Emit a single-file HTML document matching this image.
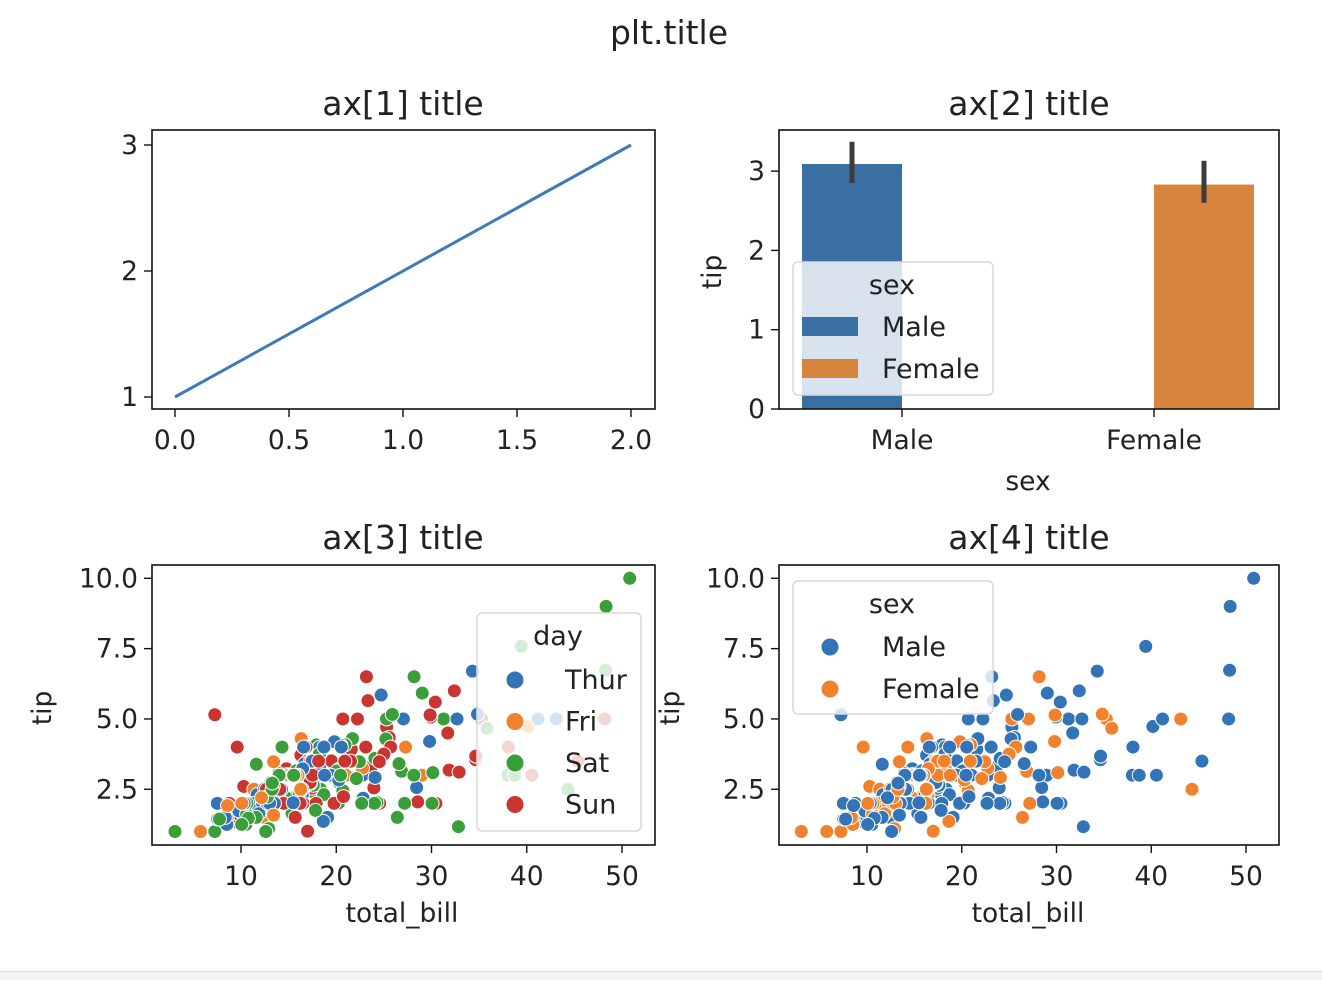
<!DOCTYPE html>
<html><head><meta charset="utf-8">
<style>
body{margin:0;background:#fff;width:1322px;height:980px;overflow:hidden;font-family:"Liberation Sans","DejaVu Sans",sans-serif;}
svg text{font-family:"DejaVu Sans","Liberation Sans",sans-serif;fill:#222;}
</style></head>
<body>
<svg id="fig" width="1322" height="980" xmlns="http://www.w3.org/2000/svg">
<rect x="0" y="971" width="1322" height="9" fill="#f4f4f4"/>
<line x1="0" y1="971.5" x2="1322" y2="971.5" stroke="#ddd"/>
</svg>
<script>
// ---- data ----
const lineX = [0, 2];
const lineY = [1, 3];
const barCats = ["Male", "Female"];
const barVals = [3.09, 2.83];
const barLo = [2.85, 2.60];
const barHi = [3.37, 3.13];
const ax1XTicks = [0, 0.5, 1.0, 1.5, 2.0];
const ax1YTicks = [1, 2, 3];
const ax2YTicks = [0, 1, 2, 3];
const scatXTicks = [10, 20, 30, 40, 50];
const scatYTicks = [2.5, 5.0, 7.5, 10.0];
const days = ["Thur", "Fri", "Sat", "Sun"];
const sexes = ["Male", "Female"];
// [total_bill, tip, sex, day]
const rows = [
[16.99,1.01,"F","Sun"],[10.34,1.66,"M","Sun"],[21.01,3.5,"M","Sun"],[23.68,3.31,"M","Sun"],[24.59,3.61,"F","Sun"],[25.29,4.71,"M","Sun"],[8.77,2,"M","Sun"],[26.88,3.12,"M","Sun"],[15.04,1.96,"M","Sun"],[14.78,3.23,"M","Sun"],[10.27,1.71,"M","Sun"],[35.26,5,"F","Sun"],[15.42,1.57,"M","Sun"],[18.43,3,"M","Sun"],[14.83,3.02,"F","Sun"],[21.58,3.92,"M","Sun"],[10.33,1.67,"F","Sun"],[16.29,3.71,"M","Sun"],[16.97,3.5,"F","Sun"],[20.65,3.35,"M","Sat"],[17.92,4.08,"M","Sat"],[20.29,2.75,"F","Sat"],[15.77,2.23,"F","Sat"],[39.42,7.58,"M","Sat"],[19.82,3.18,"M","Sat"],[17.81,2.34,"M","Sat"],[13.37,2,"M","Sat"],[12.69,2,"M","Sat"],[21.7,4.3,"M","Sat"],[19.65,3,"F","Sat"],[9.55,1.45,"M","Sat"],[18.35,2.5,"M","Sat"],[15.06,3,"F","Sat"],[20.69,2.45,"F","Sat"],[17.78,3.27,"M","Sat"],[24.06,3.6,"M","Sat"],[16.31,2,"M","Sat"],[16.93,3.07,"F","Sat"],[18.69,2.31,"M","Sat"],[31.27,5,"M","Sat"],[16.04,2.24,"M","Sat"],[17.46,2.54,"M","Sun"],[13.94,3.06,"M","Sun"],[9.68,1.32,"M","Sun"],[30.4,5.6,"M","Sun"],[18.29,3,"M","Sun"],[22.23,5,"M","Sun"],[32.4,6,"M","Sun"],[28.55,2.05,"M","Sun"],[18.04,3,"M","Sun"],[12.54,2.5,"M","Sun"],[10.29,2.6,"F","Sun"],[34.81,5.2,"F","Sun"],[9.94,1.56,"M","Sun"],[25.56,4.34,"M","Sun"],[19.49,3.51,"M","Sun"],[38.01,3,"M","Sat"],[26.41,1.5,"F","Sat"],[11.24,1.76,"M","Sat"],[48.27,6.73,"M","Sat"],[20.29,3.21,"M","Sat"],[13.81,2,"M","Sat"],[11.02,1.98,"M","Sat"],[18.29,3.76,"M","Sat"],[17.59,2.64,"M","Sat"],[20.08,3.15,"M","Sat"],[16.45,2.47,"F","Sat"],[3.07,1,"F","Sat"],[20.23,2.01,"M","Sat"],[15.01,2.09,"M","Sat"],[12.02,1.97,"M","Sat"],[17.07,3,"F","Sat"],[26.86,3.14,"F","Sat"],[25.28,5,"F","Sat"],[14.73,2.2,"F","Sat"],[10.51,1.25,"M","Sat"],[17.92,3.08,"M","Sat"],[27.2,4,"M","Thur"],[22.76,3,"M","Thur"],[17.29,2.71,"M","Thur"],[19.44,3,"M","Thur"],[16.66,3.4,"M","Thur"],[10.07,1.83,"F","Thur"],[32.68,5,"M","Thur"],[15.98,2.03,"M","Thur"],[34.83,5.17,"F","Thur"],[13.03,2,"M","Thur"],[18.28,4,"M","Thur"],[24.71,5.85,"M","Thur"],[21.16,3,"M","Thur"],[28.97,3,"M","Fri"],[22.49,3.5,"M","Fri"],[5.75,1,"F","Fri"],[16.32,4.3,"F","Fri"],[22.75,3.25,"F","Fri"],[40.17,4.73,"M","Fri"],[27.28,4,"M","Fri"],[12.03,1.5,"M","Fri"],[21.01,3,"M","Fri"],[12.46,1.5,"M","Fri"],[11.35,2.5,"F","Fri"],[15.38,3,"F","Fri"],[44.3,2.5,"F","Sat"],[22.42,3.48,"F","Sat"],[20.92,4.08,"F","Sat"],[15.36,1.64,"M","Sat"],[20.49,4.06,"M","Sat"],[25.21,4.29,"M","Sat"],[18.24,3.76,"M","Sat"],[14.31,4,"F","Sat"],[14,3,"M","Sat"],[7.25,1,"F","Sat"],[38.07,4,"M","Sun"],[23.95,2.55,"M","Sun"],[25.71,4,"F","Sun"],[17.31,3.5,"F","Sun"],[29.93,5.07,"M","Sun"],[10.65,1.5,"F","Thur"],[12.43,1.8,"F","Thur"],[24.08,2.92,"F","Thur"],[11.69,2.31,"M","Thur"],[13.42,1.68,"F","Thur"],[14.26,2.5,"M","Thur"],[15.95,2,"M","Thur"],[12.48,2.52,"F","Thur"],[29.8,4.2,"F","Thur"],[8.52,1.48,"M","Thur"],[14.52,2,"F","Thur"],[11.38,2,"F","Thur"],[22.82,2.18,"M","Thur"],[19.08,1.5,"M","Thur"],[20.27,2.83,"F","Thur"],[11.17,1.5,"F","Thur"],[12.26,2,"F","Thur"],[18.26,3.25,"F","Thur"],[8.51,1.25,"F","Thur"],[10.33,2,"F","Thur"],[14.15,2,"F","Thur"],[16,2,"M","Thur"],[13.16,2.75,"F","Thur"],[17.47,3.5,"F","Thur"],[34.3,6.7,"M","Thur"],[41.19,5,"M","Thur"],[27.05,5,"F","Thur"],[16.43,2.3,"F","Thur"],[8.35,1.5,"F","Thur"],[18.64,1.36,"F","Thur"],[11.87,1.63,"F","Thur"],[9.78,1.73,"M","Thur"],[7.51,2,"M","Thur"],[14.07,2.5,"M","Sun"],[13.13,2,"M","Sun"],[17.26,2.74,"M","Sun"],[24.55,2,"M","Sun"],[19.77,2,"M","Sun"],[29.85,5.14,"F","Sun"],[48.17,5,"M","Sun"],[25,3.75,"F","Sun"],[13.39,2.61,"F","Sun"],[16.49,2,"M","Sun"],[21.5,3.5,"M","Sun"],[12.66,2.5,"M","Sun"],[16.21,2,"F","Sun"],[13.81,2,"M","Sun"],[17.51,3,"F","Sun"],[24.52,3.48,"M","Sun"],[20.76,2.24,"M","Sun"],[31.71,4.5,"M","Sun"],[10.59,1.61,"F","Sat"],[10.63,2,"F","Sat"],[50.81,10,"M","Sat"],[15.81,3.16,"M","Sat"],[7.25,5.15,"M","Sun"],[31.85,3.18,"M","Sun"],[16.82,4,"M","Sun"],[32.9,3.11,"M","Sun"],[17.89,2,"M","Sun"],[14.48,2,"M","Sun"],[9.6,4,"F","Sun"],[34.63,3.55,"M","Sun"],[34.65,3.68,"M","Sun"],[23.33,5.65,"M","Sun"],[45.35,3.5,"M","Sun"],[23.17,6.5,"M","Sun"],[40.55,3,"M","Sun"],[20.69,5,"M","Sun"],[20.9,3.5,"F","Sun"],[30.46,2,"M","Sun"],[18.15,3.5,"F","Sun"],[23.1,4,"M","Sun"],[15.69,1.5,"M","Sun"],[19.81,4.19,"F","Thur"],[28.44,2.56,"M","Thur"],[15.48,2.02,"M","Thur"],[16.58,4,"M","Thur"],[7.56,1.44,"M","Thur"],[10.34,2,"M","Thur"],[43.11,5,"F","Thur"],[13,2,"F","Thur"],[13.51,2,"M","Thur"],[18.71,4,"M","Thur"],[12.74,2.01,"F","Thur"],[13,2,"F","Thur"],[16.4,2.5,"F","Thur"],[20.53,4,"M","Thur"],[16.47,3.23,"F","Thur"],[26.59,3.41,"M","Sat"],[38.73,3,"M","Sat"],[24.27,2.03,"M","Sat"],[12.76,2.23,"F","Sat"],[30.06,2,"M","Sat"],[25.89,5.16,"M","Sat"],[48.33,9,"M","Sat"],[13.27,2.5,"F","Sat"],[28.17,6.5,"F","Sat"],[12.9,1.1,"F","Sat"],[28.15,3,"M","Sat"],[11.59,1.5,"M","Sat"],[7.74,1.44,"M","Sat"],[30.14,3.09,"F","Sat"],[12.16,2.2,"M","Fri"],[13.42,3.48,"F","Fri"],[8.58,1.92,"M","Fri"],[15.98,3,"F","Fri"],[13.42,1.58,"M","Fri"],[16.27,2.5,"F","Fri"],[10.09,2,"F","Fri"],[20.45,3,"M","Sat"],[13.28,2.72,"M","Sat"],[22.12,2.88,"F","Sat"],[24.01,2,"M","Sat"],[15.69,3,"M","Sat"],[11.61,3.39,"M","Sat"],[10.77,1.47,"M","Sat"],[15.53,3,"M","Sat"],[10.07,1.25,"M","Sat"],[12.6,1,"M","Sat"],[32.83,1.17,"M","Sat"],[35.83,4.67,"F","Sat"],[29.03,5.92,"M","Sat"],[27.18,2,"F","Sat"],[22.67,2,"M","Sat"],[17.82,1.75,"M","Sat"],[18.78,3,"F","Thur"]
];

const NS = "http://www.w3.org/2000/svg";
const svg = document.getElementById("fig");
const dayColors = {Thur:"#3274b5", Fri:"#f0822e", Sat:"#3a9f3a", Sun:"#c93530"};
const sexColors = {M:"#3274b5", F:"#f0822e"};
const TS = 26.5, TT = 33, LS = 27;
function mk(tag, attrs, parent){ const e=document.createElementNS(NS,tag); for(const k in attrs) e.setAttribute(k,attrs[k]); (parent||svg).appendChild(e); return e; }
function txt(x,y,s,size,anchor,parent,extra){ const t=mk("text",Object.assign({x:x,y:y,"font-size":size,"text-anchor":anchor||"middle"},extra||{}),parent); t.textContent=s; return t; }

// scales
const a1x = v => 175 + v*228, a1y = v => 397 - (v-1)*126;
const a2y = v => 409 - v*79.3;
const a3x = v => 241 + (v-10)*9.525, sy = v => 859.6 - v*28.13;
const a4x = v => 867 + (v-10)*9.475;

function frame(x,y,w,h,name){ const r=mk("rect",{x:x,y:y,width:w,height:h,fill:"none",stroke:"#111","stroke-width":1.6});   }
function xtick(px,yb,label,name){ const g=mk("g",{});   mk("line",{x1:px,y1:yb,x2:px,y2:yb+8,stroke:"#111","stroke-width":1.4},g); txt(px,yb+40,label,TS,"middle",g); }
function ytick(xl,py,label,name){ const g=mk("g",{});   mk("line",{x1:xl,y1:py,x2:xl-8,y2:py,stroke:"#111","stroke-width":1.4},g); txt(xl-14,py+9,label,TS,"end",g); }

// super title
const st = txt(669,44,"plt.title",TT);  

// ---- ax1 ----
let t = txt(403,115,"ax[1] title",TT);  
const pl = mk("polyline",{points:lineX.map((v,i)=>a1x(v)+","+a1y(lineY[i])).join(" "),fill:"none",stroke:"#3d7ab8","stroke-width":3});
 
frame(152,130,503,279,"ax1-frame");
ax1XTicks.forEach(v=>xtick(a1x(v),409,v.toFixed(1),"ax1-xtick"));
ax1YTicks.forEach(v=>ytick(152,a1y(v),String(v),"ax1-ytick"));

// ---- ax2 ----
t = txt(1029,115,"ax[2] title",TT);  
const tickCenters = [902, 1154];
const barCenters = [852, 1204];
const barCols = ["#3a6fa3","#d7843d"];
barCats.forEach((c,i)=>{
  const b=mk("rect",{x:barCenters[i]-50,y:a2y(barVals[i]),width:100,height:a2y(0)-a2y(barVals[i]),fill:barCols[i]});
   
  const e=mk("line",{x1:barCenters[i],x2:barCenters[i],y1:a2y(barLo[i]),y2:a2y(barHi[i]),stroke:"#3c3c3c","stroke-width":5});
   
});
let lg = mk("g",{});  
mk("rect",{x:793,y:262,width:200,height:133,rx:5,fill:"#fff","fill-opacity":0.8,stroke:"#d8d8d8","stroke-width":1.5},lg);
txt(892,294,"sex",LS,"middle",lg);
mk("rect",{x:802,y:317,width:56,height:19,fill:barCols[0]},lg); txt(882,336,"Male",LS,"start",lg);
mk("rect",{x:802,y:359,width:56,height:19,fill:barCols[1]},lg); txt(882,378,"Female",LS,"start",lg);
frame(779,130,500,279,"ax2-frame");
barCats.forEach((c,i)=>xtick(tickCenters[i],409,c,"ax2-xtick"));
ax2YTicks.forEach(v=>ytick(779,a2y(v),String(v),"ax2-ytick"));
t = txt(1028,490,"sex",TS);  
t = txt(0,0,"tip",TS,"middle",null,{transform:"translate(721,272) rotate(-90)"});  

// ---- ax3 ----
t = txt(403,549,"ax[3] title",TT);  
const g3 = mk("g",{});  
rows.forEach(r=>{
  const c=mk("circle",{cx:a3x(r[0]),cy:sy(r[1]),r:7,fill:dayColors[r[3]],stroke:"#fff","stroke-width":1},g3);
   
});
lg = mk("g",{});  
mk("rect",{x:477,y:613,width:164,height:218,rx:5,fill:"#fff","fill-opacity":0.8,stroke:"#d8d8d8","stroke-width":1.5},lg);
txt(558,645,"day",LS,"middle",lg);
days.forEach((d,i)=>{ const y=680+i*41.5; mk("circle",{cx:515,cy:y,r:9,fill:dayColors[d],stroke:"#fff"},lg); txt(565,y+9,d,LS,"start",lg); });
frame(152,565,503,280,"ax3-frame");
scatXTicks.forEach(v=>xtick(a3x(v),845,String(v),"ax3-xtick"));
scatYTicks.forEach(v=>ytick(152,sy(v),v.toFixed(1),"ax3-ytick"));
t = txt(402,922,"total_bill",TS);  
t = txt(0,0,"tip",TS,"middle",null,{transform:"translate(51,708) rotate(-90)"});  

// ---- ax4 ----
t = txt(1029,549,"ax[4] title",TT);  
const g4 = mk("g",{});  
rows.forEach(r=>{
  const c=mk("circle",{cx:a4x(r[0]),cy:sy(r[1]),r:7,fill:sexColors[r[2]],stroke:"#fff","stroke-width":1},g4);
   
});
lg = mk("g",{});  
mk("rect",{x:793,y:581,width:200,height:133,rx:5,fill:"#fff","fill-opacity":0.8,stroke:"#d8d8d8","stroke-width":1.5},lg);
txt(892,613,"sex",LS,"middle",lg);
sexes.forEach((s,i)=>{ const y=647+i*42; mk("circle",{cx:830,cy:y,r:9,fill:sexColors[s[0]],stroke:"#fff"},lg); txt(882,y+9,s,LS,"start",lg); });
frame(779,565,500,280,"ax4-frame");
scatXTicks.forEach(v=>xtick(a4x(v),845,String(v),"ax4-xtick"));
scatYTicks.forEach(v=>ytick(779,sy(v),v.toFixed(1),"ax4-ytick"));
t = txt(1028,922,"total_bill",TS);  
t = txt(0,0,"tip",TS,"middle",null,{transform:"translate(679,708) rotate(-90)"});  
</script>
</body></html>
